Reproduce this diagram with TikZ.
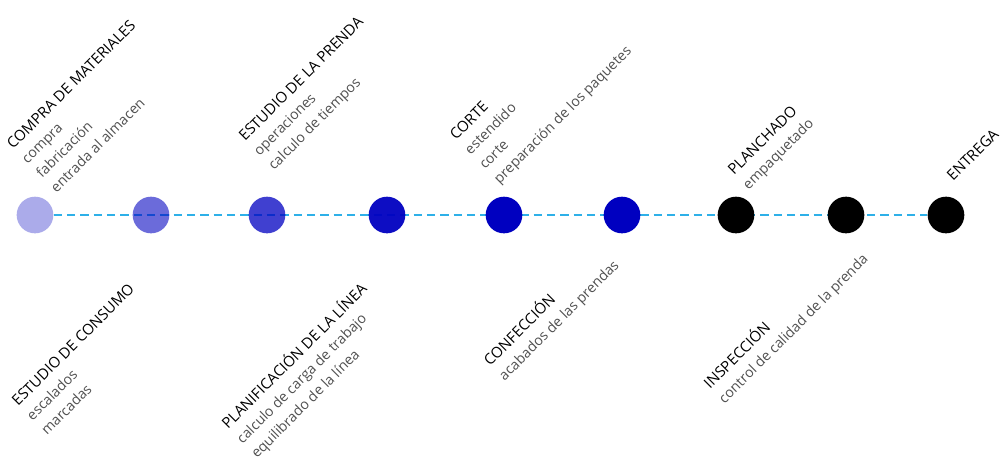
\documentclass[tikz,border=0pt]{standalone}
\usepackage{fontspec}
\setmainfont{Open Sans}
\usetikzlibrary{backgrounds}

\begin{document}
\begin{tikzpicture}[%
        % 1 unit = 1 pixel of the sketch, y grows upwards
        x=0.75pt,y=0.75pt,
        % styles
        stagedot/.style={circle,minimum size=27.5pt,inner sep=0pt},
        link/.style={draw=linkcolor,line width=1.5pt,dash pattern=on 6.2pt off 3.8pt},
        head/.style={anchor=base west,inner sep=0pt,transform shape,text=black,font=\fontsize{11.2}{13}\selectfont},
        item/.style={head,text=itemcolor,font=\fontsize{10.6}{13}\selectfont}
        ]

        \definecolor{dotblue}{RGB}{0,0,192}
        \definecolor{linkcolor}{RGB}{46,176,232}
        \definecolor{itemcolor}{RGB}{80,80,80}

        \def\Dy{20.5};  % spacing between label lines
        \def\Yd{-215};  % height of the stage dots

        \useasboundingbox (0,0) rectangle (1004,-462);

        % stage dots, fading blue to black
        \foreach \x/\col/\op [count=\i] in {35/dotblue/0.33, 151/dotblue/0.58, 267/dotblue/0.75,
                387/dotblue/0.95, 504/dotblue/1, 622/dotblue/1, 736/black/1, 846/black/1, 946/black/1}
            \node[stagedot,fill=\col,fill opacity=\op] (S\i) at (\x,\Yd) {};

        % dashed link behind the dots
        \begin{pgfonlayer}{background}
            \draw[link] (S1) -- (S9);
        \end{pgfonlayer}

        % labels above the line
        \begin{scope}[shift={(13,-150)},rotate=45]
            \node[head] (matl) at (0,0) {COMPRA DE MATERIALES};
            \foreach \t [count=\i] in {compra,fabricación,entrada al almacen}
                \node[item] (matl\i) at (0,-\i*\Dy) {\t};
        \end{scope}
        \begin{scope}[shift={(245,-142)},rotate=45]
            \node[head] (prenda) at (0,0) {ESTUDIO DE LA PRENDA};
            \foreach \t [count=\i] in {operaciones,calculo de tiempos}
                \node[item] (prenda\i) at (0,-\i*\Dy) {\t};
        \end{scope}
        \begin{scope}[shift={(456,-141)},rotate=45]
            \node[head] (corte) at (0,0) {CORTE};
            \foreach \t [count=\i] in {estendido,corte,preparación de los paquetes}
                \node[item] (corte\i) at (0,-\i*\Dy) {\t};
        \end{scope}
        \begin{scope}[shift={(734,-176)},rotate=45]
            \node[head] (plancha) at (0,0) {PLANCHADO};
            \node[item] (plancha1) at (0,-\Dy) {empaquetado};
        \end{scope}
        \begin{scope}[shift={(953,-182)},rotate=45]
            \node[head] (entrega) at (0,0) {ENTREGA};
        \end{scope}

        % labels below the line
        \begin{scope}[shift={(18,-407)},rotate=45]
            \node[head] (consumo) at (0,0) {ESTUDIO DE CONSUMO};
            \foreach \t [count=\i] in {escalados,marcadas}
                \node[item] (consumo\i) at (0,-\i*\Dy) {\t};
        \end{scope}
        \begin{scope}[shift={(228,-430)},rotate=45]
            \node[head] (linea) at (0,0) {PLANIFICACIÓN DE LA LÍNEA};
            \foreach \t [count=\i] in {calculo de carga de trabajo,equilibrado de la línea}
                \node[item] (linea\i) at (0,-\i*\Dy) {\t};
        \end{scope}
        \begin{scope}[shift={(490,-367)},rotate=45]
            \node[head] (confec) at (0,0) {CONFECCIÓN};
            \node[item] (confec1) at (0,-\Dy) {acabados de las prendas};
        \end{scope}
        \begin{scope}[shift={(710,-390)},rotate=45]
            \node[head] (inspec) at (0,0) {INSPECCIÓN};
            \node[item] (inspec1) at (0,-\Dy) {control de calidad de la prenda};
        \end{scope}

    \end{tikzpicture}
\end{document}
